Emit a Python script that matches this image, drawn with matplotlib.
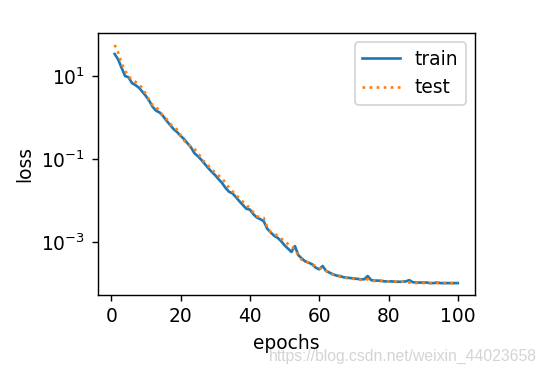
import matplotlib
matplotlib.use("Agg")
import matplotlib.pyplot as plt
from matplotlib import ticker

epochs = list(range(1, 101))

train_loss = [
    33.9, 25.1, 15.8, 10.0, 9.33, 6.76, 6.03, 5.25, 4.17, 3.31,
    2.51, 1.78, 1.45, 1.32, 1.07, 0.832, 0.661, 0.525, 0.447, 0.363,
    0.302, 0.240, 0.191, 0.138, 0.117, 0.0955, 0.0759, 0.0603, 0.0490, 0.0407,
    0.0324, 0.0263, 0.0200, 0.0162, 0.0148, 0.0120, 0.00955, 0.00776, 0.00631, 0.00603,
    0.00468, 0.00389, 0.00355, 0.00316, 0.00209, 0.00170, 0.00141, 0.00126, 0.00105, 8.32e-4,
    6.92e-4, 5.75e-4, 7.94e-4, 4.79e-4, 3.98e-4, 3.39e-4, 3.16e-4, 2.88e-4, 2.40e-4, 2.19e-4,
    2.63e-4, 2.00e-4, 1.82e-4, 1.66e-4, 1.55e-4, 1.51e-4, 1.41e-4, 1.38e-4, 1.35e-4, 1.32e-4,
    1.29e-4, 1.26e-4, 1.26e-4, 1.51e-4, 1.20e-4, 1.17e-4, 1.17e-4, 1.15e-4, 1.12e-4, 1.12e-4,
    1.12e-4, 1.10e-4, 1.10e-4, 1.10e-4, 1.12e-4, 1.20e-4, 1.07e-4, 1.05e-4, 1.05e-4, 1.05e-4,
    1.05e-4, 1.02e-4, 1.02e-4, 1.05e-4, 1.02e-4, 1.02e-4, 1.02e-4, 1.02e-4, 1.02e-4, 1.02e-4,
]

test_loss = [
    56.2, 37.2, 20.0, 13.5, 10.0, 7.94, 7.24, 6.31, 5.01, 3.72,
    2.63, 1.95, 1.82, 1.38, 1.12, 0.912, 0.708, 0.575, 0.513, 0.380,
    0.282, 0.229, 0.200, 0.174, 0.141, 0.105, 0.0832, 0.0692, 0.0562, 0.0468,
    0.0398, 0.0339, 0.0263, 0.0200, 0.0166, 0.0135, 0.0112, 0.00933, 0.00794, 0.00631,
    0.00525, 0.00417, 0.00398, 0.00380, 0.00229, 0.00174, 0.00158, 0.00141, 0.00120, 0.00107,
    8.91e-4, 7.59e-4, 6.61e-4, 4.68e-4, 3.72e-4, 3.47e-4, 3.16e-4, 2.88e-4, 2.63e-4, 2.34e-4,
    2.29e-4, 2.00e-4, 1.78e-4, 1.62e-4, 1.51e-4, 1.45e-4, 1.38e-4, 1.35e-4, 1.32e-4, 1.29e-4,
    1.26e-4, 1.23e-4, 1.23e-4, 1.26e-4, 1.17e-4, 1.15e-4, 1.15e-4, 1.15e-4, 1.12e-4, 1.12e-4,
    1.12e-4, 1.10e-4, 1.10e-4, 1.10e-4, 1.10e-4, 1.05e-4, 1.02e-4, 1.02e-4, 1.05e-4, 1.02e-4,
    1.02e-4, 1.02e-4, 1.02e-4, 1.02e-4, 1.02e-4, 1.02e-4, 1.02e-4, 1.02e-4, 1.02e-4, 1.02e-4,
]

series_labels = ["train", "test"]
y_tick_values = [1e1, 1e-1, 1e-3]
watermark = "https://blog.csdn.net/weixin_44023658"

DPI = 128
FS = 10.5
fig = plt.figure(figsize=(546 / DPI, 372 / DPI), dpi=DPI)
ax = fig.add_axes([97.5 / 546, 1 - 295 / 372, (475 - 97.5) / 546, (295 - 33) / 372])

ax.semilogy(epochs, train_loss, "-", color="C0", linewidth=1.5, label=series_labels[0])
ax.semilogy(epochs, test_loss, ":", color="C1", linewidth=1.5, label=series_labels[1])
ax.yaxis.set_major_locator(ticker.FixedLocator(y_tick_values))
ax.yaxis.set_minor_locator(ticker.NullLocator())
ax.set_xlabel("epochs", fontsize=FS)
ax.set_ylabel("loss", fontsize=FS)
ax.tick_params(labelsize=FS)
ax.legend(loc="upper right", fontsize=FS)

fig.text(537 / 546, 1 - 356 / 372, watermark, ha="right", va="center",
         fontsize=8.9, family="Liberation Sans", color="#d4d4d4")

fig.savefig("out.png", dpi=DPI)
